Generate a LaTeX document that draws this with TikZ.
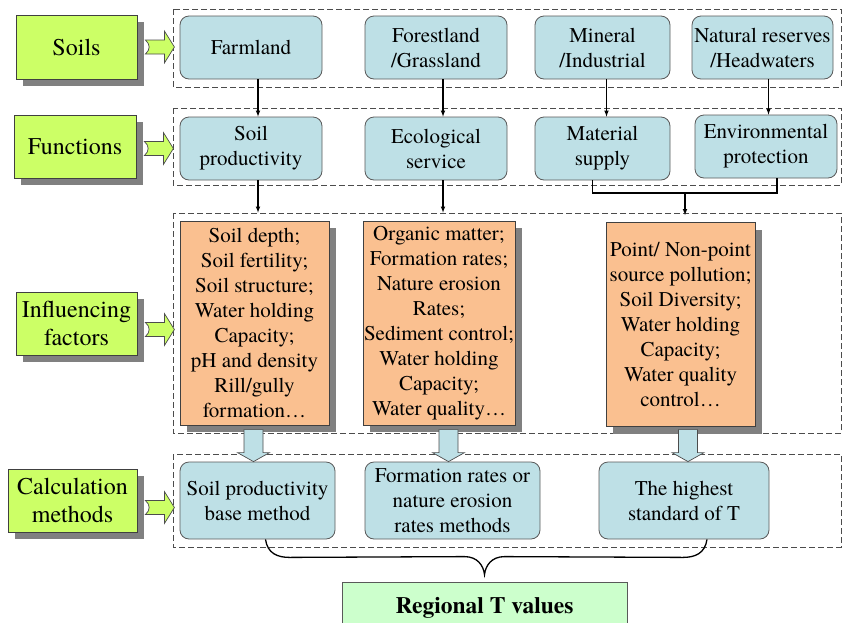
\documentclass[tikz,border=0pt]{standalone}
\usepackage{fontspec}
\setmainfont{texgyretermes}[Extension=.otf, UprightFont=*-regular, BoldFont=*-bold]
\usetikzlibrary{calc,shadows}

\definecolor{labelgreen}{RGB}{204,255,102}
\definecolor{itemblue}{RGB}{190,224,230}
\definecolor{factororange}{RGB}{250,192,144}
\definecolor{resultgreen}{RGB}{204,255,204}

\tikzset{
  sidearrow/.pic={
    \draw[fill=labelgreen, draw=black!70, line width=0.7pt]
      (0,-7) -- (19,-7) -- (19,-16) -- (29,0) -- (19,16) -- (19,7) -- (0,7)
      .. controls (5,3) and (5,-3) .. (0,-7) -- cycle;
  },
  downarrow/.pic={
    \draw[fill=itemblue, draw=black!70, line width=0.7pt]
      (-9.5,-32) -- (9.5,-32) -- (9.5,-9) -- (16,-9) -- (0,0) -- (-16,-9) -- (-9.5,-9) -- cycle;
  },
}

\begin{document}
\begin{tikzpicture}[x=1pt, y=-1pt, thick,
    every node/.style={font=\fontsize{21}{25}\selectfont, align=center, inner sep=1pt},
    labelbox/.style={draw=black!75, line width=0.8pt, fill=labelgreen,
      font=\fontsize{24}{28}\selectfont,
      drop shadow={shadow xshift=7pt, shadow yshift=-7pt, fill=black!50, opacity=1}},
    itembox/.style={draw=black!65, line width=0.8pt, fill=itemblue, rounded corners=9pt},
    factorbox/.style={draw=black!75, line width=0.8pt, fill=factororange,
      minimum width=149, minimum height=204,
      drop shadow={shadow xshift=7pt, shadow yshift=-7pt, fill=black!50, opacity=1}},
    groupbox/.style={draw=black!70, line width=0.9pt, dash pattern=on 6pt off 3pt},
    conn/.style={-latex, line width=1.1pt},
    brace/.style={line width=1.3pt},
  ]
  \useasboundingbox (0,0) rectangle (844,622);

  % dashed groups
  \draw[groupbox] (173,9) rectangle (841,87);
  \draw[groupbox] (173,108) rectangle (841,185);
  \draw[groupbox] (173,213) rectangle (841,433);
  \draw[groupbox] (173,454) rectangle (841,547);

  % left labels
  \node[labelbox, minimum width=121, minimum height=64] (soils) at (76.5,47) {Soils};
  \node[labelbox, minimum width=122, minimum height=63] (funcs) at (75,146.5) {Functions};
  \node[labelbox, minimum width=121, minimum height=63] (factors) at (76.5,323.5) {Influencing\\factors};
  \node[labelbox, minimum width=129, minimum height=63] (methods) at (72.5,500.5) {Calculation\\methods};

  \foreach \n/\dy in {soils/0, funcs/-2, factors/-6, methods/-7}
    \pic at ([xshift=8pt, yshift=\dy pt]\n.east) {sidearrow};

  % soils
  \node[itembox, minimum width=142, minimum height=63] (farm) at (251,47.5) {Farmland};
  \node[itembox, minimum width=142, minimum height=63] (forest) at (436,47.5) {Forestland\\/Grassland};
  \node[itembox, minimum width=135, minimum height=63] (mineral) at (602.5,47.5) {Mineral\\/Industrial};
  \node[itembox, minimum width=141, minimum height=63] (reserve) at (762.5,47.5) {Natural reserves\\/Headwaters};

  % functions
  \node[itembox, minimum width=142, minimum height=63] (prod) at (251,148.5) {Soil\\productivity};
  \node[itembox, minimum width=142, minimum height=63] (eco) at (436,148.5) {Ecological\\service};
  \node[itembox, minimum width=135, minimum height=63] (supply) at (602.5,148.5) {Material\\supply};
  \node[itembox, minimum width=142, minimum height=63] (env) at (766,146.5) {Environmental\\protection};

  \foreach \a/\b/\s in {farm/prod/7, forest/eco/7, mineral/supply/4, reserve/env/6}
    \draw[conn] ([xshift=\s pt]\a.south) -- ([xshift=\s pt]\a.south |- \b.north);

  % influencing factors
  \node[factorbox] (fsoil) at (254.5,323) {Soil depth;\\Soil fertility;\\Soil structure;\\Water holding\\Capacity;\\pH and density\\Rill/gully\\formation…};
  \node[factorbox, minimum width=148] (feco) at (439,323) {Organic matter;\\Formation rates;\\Nature erosion\\Rates;\\Sediment control;\\Water holding\\Capacity;\\Water quality…};
  \node[factorbox] (fenv) at (680.5,324.5) {Point/ Non-point\\source pollution;\\Soil Diversity;\\Water holding\\Capacity;\\Water quality\\control…};

  \draw[conn, shorten >=8pt] ([xshift=7pt]prod.south) -- ([xshift=7pt]prod.south |- fsoil.north);
  \draw[conn, shorten >=8pt] ([xshift=7pt]eco.south) -- ([xshift=7pt]eco.south |- feco.north);
  \coordinate (join) at (685,193);
  \draw[line width=1.1pt] ([xshift=-10pt]supply.south) |- (join) -| ([xshift=11pt]env.south);
  \draw[conn, shorten >=7pt] (join) -- (join |- fenv.north);

  % calculation methods
  \node[itembox, minimum width=155, minimum height=77] (calc1) at (257.5,500.5) {Soil productivity\\base method};
  \node[itembox, minimum width=175, minimum height=77] (calc2) at (452.5,500.5) {Formation rates or\\nature erosion\\rates methods};
  \node[itembox, minimum width=170, minimum height=77] (calc3) at (684,500.5) {The highest\\standard of T};

  \pic at ([xshift=-4pt]calc1.north) {downarrow};
  \pic at ([xshift=-4pt]calc2.north) {downarrow};
  \pic at ([xshift=4pt]calc3.north) {downarrow};

  % result
  \node[draw=black!65, line width=0.8pt, fill=resultgreen, minimum width=285, minimum height=52,
        font=\fontsize{23.5}{27}\selectfont\bfseries] (regional) at (484.5,608) {Regional T values};
  \coordinate (tip) at ([yshift=7pt]regional.north);

  \draw[brace] ([xshift=8pt]calc1.south) .. controls +(2,14) and +(-12,0) .. ++(24,18)
    -- ($(tip)+(-20,-18)$) .. controls +(13,0) and +(-1,-9) .. (tip)
    .. controls +(1,-9) and +(-13,0) .. ($(tip)+(20,-18)$)
    -- ($([xshift=23pt]calc3.south)+(-24,18)$) .. controls +(12,0) and +(-2,14) .. ([xshift=23pt]calc3.south);
\end{tikzpicture}
\end{document}
